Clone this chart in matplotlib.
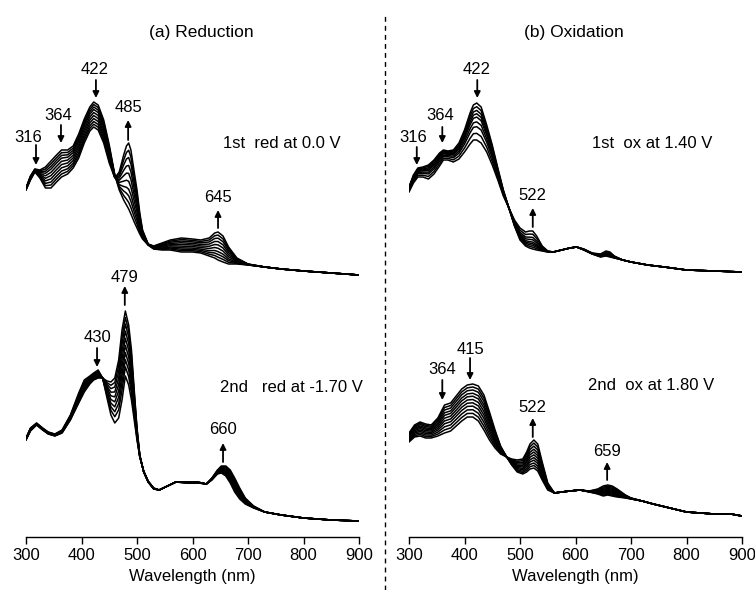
import numpy as np
import matplotlib
matplotlib.use('Agg')
import matplotlib.pyplot as plt
from matplotlib.lines import Line2D

plt.rcParams['font.family'] = ['Liberation Sans', 'DejaVu Sans']
plt.rcParams['font.size'] = 12

# spectra (arbitrary absorbance units, upper sets offset)
red1_wl = [300, 308, 316, 325, 335, 345, 355, 364, 375, 385, 395, 405, 415, 422, 430, 440, 450, 460, 468, 476,
           481, 485, 489, 495, 500, 505, 510, 520, 530, 545, 560, 580, 600, 615, 630, 640, 646, 655, 665, 680,
           700, 730, 760, 800, 850, 900]
red1_first = [349, 361, 368, 367, 370, 376, 382, 387, 387, 391, 403, 418, 430, 435, 432, 417, 392, 362, 347, 337,
              332, 328, 323, 315, 309, 303, 298, 292, 288, 287, 287, 285, 285, 284, 281, 279, 277, 275, 273, 273,
              272, 270, 268, 266, 264, 262]
red1_last = [347, 357, 365, 359, 349, 349, 355, 360, 363, 369, 379, 394, 406, 410, 407, 394, 374, 359, 365, 382,
             391, 394, 387, 365, 347, 324, 307, 293, 291, 294, 297, 299, 298, 297, 299, 304, 305, 301, 290, 279,
             273, 270, 268, 266, 264, 262]
red1_steps = [0, 0.1, 0.2, 0.3, 0.42, 0.54, 0.66, 0.78, 0.89, 1.0]

red2_wl = [300, 308, 319, 330, 340, 352, 365, 380, 395, 405, 415, 422, 430, 438, 446, 453, 460, 467, 473, 479,
           485, 490, 495, 500, 505, 512, 520, 530, 540, 555, 570, 590, 610, 625, 635, 645, 652, 660, 668, 676,
           685, 695, 710, 730, 760, 800, 850, 900]
red2_first = [99, 109, 114, 109, 105, 103, 107, 122, 144, 157, 161, 164, 167, 159, 139, 122, 114, 119, 137, 161,
              152, 137, 117, 97, 80, 66, 56, 49, 47, 51, 55, 54, 54, 53, 57, 63, 64, 61, 54, 45,
              38, 33, 29, 25, 22, 19, 17, 16]
red2_last = [97, 106, 112, 107, 103, 101, 104, 117, 134, 145, 153, 157, 159, 159, 156, 155, 159, 177, 207, 226,
             212, 187, 147, 109, 82, 65, 55, 48, 47, 51, 55, 55, 55, 53, 59, 67, 71, 71, 67, 59,
             49, 39, 31, 25, 22, 19, 17, 16]
red2_steps = [0, 0.14, 0.25, 0.36, 0.47, 0.58, 0.69, 0.8, 0.9, 1.0]

ox1_wl = [300, 308, 316, 325, 335, 345, 355, 362, 370, 380, 390, 400, 410, 416, 422, 430, 440, 450, 460, 470,
          480, 490, 500, 510, 517, 523, 530, 540, 550, 560, 575, 590, 602, 615, 630, 645, 655, 662, 670, 685,
          700, 730, 760, 800, 850, 900]
ox1_first = [350, 362, 369, 370, 372, 377, 384, 387, 386, 387, 394, 407, 424, 432, 434, 430, 412, 392, 369, 347,
             329, 311, 297, 291, 289, 288, 287, 286, 285, 285, 287, 289, 290, 287, 283, 280, 281, 280, 279, 277,
             275, 272, 270, 267, 266, 265]
ox1_last = [345, 354, 360, 360, 358, 363, 371, 377, 377, 375, 378, 385, 393, 397, 397, 394, 385, 372, 357, 341,
            329, 317, 309, 305, 306, 306, 301, 291, 286, 285, 287, 289, 290, 288, 284, 283, 286, 285, 281, 277,
            275, 272, 270, 267, 266, 265]
ox1_steps = [0, 0.1, 0.2, 0.29, 0.38, 0.51, 0.64, 0.82, 1.0]

ox2_wl = [300, 310, 320, 330, 340, 352, 364, 375, 385, 395, 405, 415, 425, 435, 445, 455, 465, 476, 485, 495,
          505, 512, 518, 525, 532, 540, 550, 562, 575, 590, 608, 625, 640, 650, 658, 666, 675, 690, 700, 720,
          740, 770, 800, 850, 880, 900]
ox2_first = [104, 112, 115, 113, 112, 119, 132, 134, 141, 148, 152, 153, 151, 142, 125, 107, 91, 80, 72, 65,
             63, 65, 68, 69, 66, 57, 47, 44, 45, 46, 47, 45, 43, 41, 42, 41, 40, 39, 38, 36,
             33, 29, 25, 23, 23, 21]
ox2_last = [95, 100, 101, 99, 99, 101, 104, 106, 111, 116, 120, 120, 116, 107, 97, 89, 83, 80, 78, 77,
            78, 85, 93, 97, 93, 75, 54, 44, 45, 46, 47, 46, 48, 51, 52, 51, 48, 42, 39, 36,
            33, 29, 25, 23, 23, 21]
ox2_steps = [0, 0.09, 0.18, 0.28, 0.37, 0.47, 0.57, 0.67, 0.78, 0.89, 1.0]

ticks = [300, 400, 500, 600, 700, 800, 900]


def spectra(ax, wl, first, last, steps):
    first = np.array(first, float)
    last = np.array(last, float)
    for s in steps:
        ax.plot(wl, first + s * (last - first), color='k', lw=1.1)


def mark(ax, label, tx, ty, ax_x, tail, head):
    ax.text(tx, ty, label, ha='center', va='center')
    ax.annotate('', xy=(ax_x, head), xytext=(ax_x, tail),
                arrowprops=dict(arrowstyle='-|>', color='k', lw=1.3, mutation_scale=9,
                                shrinkA=0, shrinkB=0))


def setup(ax, title, tx):
    ax.set_xlim(300, 900)
    ax.set_ylim(0, 522)
    for s in ['left', 'right', 'top']:
        ax.spines[s].set_visible(False)
    ax.spines['bottom'].set_linewidth(1.0)
    ax.set_yticks([])
    ax.set_xticks(ticks)
    ax.tick_params(axis='x', direction='out', length=5, width=1.0, pad=3, labelsize=12)
    ax.set_xlabel('Wavelength (nm)', fontsize=12, labelpad=4)
    ax.text(tx, 504, title, ha='center', va='center', fontsize=12.5)


fig = plt.figure(figsize=(7.55, 5.9), dpi=100)
axl = fig.add_axes([26 / 755, 53 / 590, 333 / 755, 522 / 590])
axr = fig.add_axes([409 / 755, 53 / 590, 333 / 755, 522 / 590])

spectra(axl, red1_wl, red1_first, red1_last, red1_steps)
spectra(axl, red2_wl, red2_first, red2_last, red2_steps)
spectra(axr, ox1_wl, ox1_first, ox1_last, ox1_steps)
spectra(axr, ox2_wl, ox2_first, ox2_last, ox2_steps)

setup(axl, '(a) Reduction', 615)
setup(axr, '(b) Oxidation', 597)

mark(axl, '316', 304, 400, 318, 392, 372)
mark(axl, '364', 358, 422, 363, 412, 394)
mark(axl, '422', 424, 467, 426, 457, 439)
mark(axl, '485', 484, 430, 484, 397, 417)
mark(axl, '645', 646, 340, 646, 309, 327)
axl.text(655, 394, '1st  red at 0.0 V', ha='left', va='center')
mark(axl, '479', 478, 260, 478, 232, 251)
mark(axl, '430', 428, 200, 428, 189, 170)
mark(axl, '660', 655, 107, 655, 75, 94)
axl.text(650, 150, '2nd   red at -1.70 V', ha='left', va='center')

mark(axr, '316', 307, 400, 314, 390, 372)
mark(axr, '364', 356, 422, 360, 410, 394)
mark(axr, '422', 421, 467, 423, 457, 439)
mark(axr, '522', 523, 342, 523, 310, 329)
axr.text(630, 394, '1st  ox at 1.40 V', ha='left', va='center')
mark(axr, '415', 410, 187, 410, 179, 157)
mark(axr, '364', 360, 167, 360, 157, 137)
mark(axr, '522', 523, 130, 523, 100, 119)
mark(axr, '659', 657, 85, 657, 57, 75)
axr.text(623, 152, '2nd  ox at 1.80 V', ha='left', va='center')

fig.add_artist(Line2D([385 / 755, 385 / 755], [0, 1 - 15 / 590], color='k', lw=1.0,
                      linestyle=(0, (3.5, 3))))

fig.savefig('out.png', dpi=100)
